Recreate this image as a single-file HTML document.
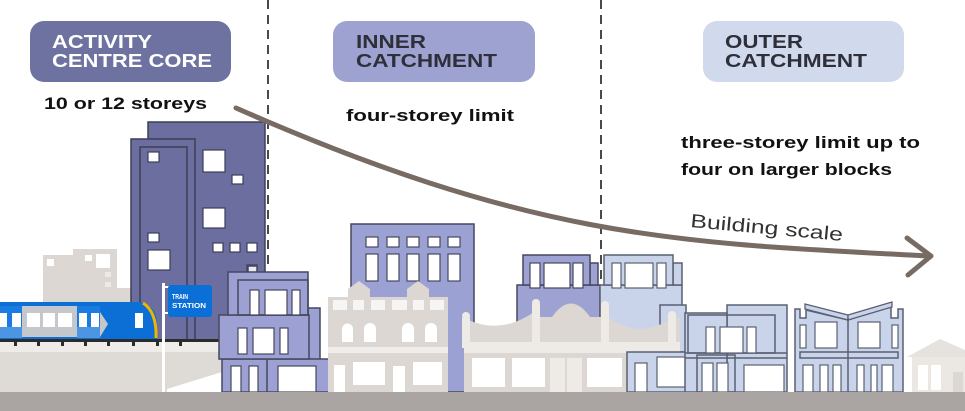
<!DOCTYPE html>
<html>
<head>
<meta charset="utf-8">
<style>
html,body{margin:0;padding:0;background:#fff;}
svg{display:block;}
text{font-family:"Liberation Sans",sans-serif;}
</style>
</head>
<body>
<svg width="965" height="411" viewBox="0 0 965 411" xmlns="http://www.w3.org/2000/svg">
<rect width="965" height="411" fill="#fff"/>

<!-- dashed boundary lines -->
<line x1="268" y1="0" x2="268" y2="270" stroke="#4a4a4a" stroke-width="2" stroke-dasharray="9 6"/>
<line x1="601" y1="0" x2="601" y2="288" stroke="#4a4a4a" stroke-width="2" stroke-dasharray="9 6"/>

<!-- beige back building -->
<g fill="#dcd7d3">
  <rect x="43" y="255" width="32" height="90"/>
  <rect x="73" y="249" width="44" height="96"/>
  <rect x="110" y="288" width="22" height="57"/>
</g>
<g fill="#fff">
  <rect x="47" y="259" width="7" height="7"/>
  <rect x="85" y="255" width="7" height="6"/>
  <rect x="96" y="254" width="14" height="14"/>
  <rect x="105" y="272" width="6" height="5" fill="#ece9e6"/>
  <rect x="105" y="282" width="6" height="5" fill="#ece9e6"/>
</g>

<!-- tower -->
<g stroke="#3c3e58" stroke-width="1.5">
  <rect x="148" y="122" width="117" height="220" fill="#6b6e9f"/>
  <rect x="131" y="139" width="64" height="203" fill="#6b6e9f"/>
  <rect x="140" y="147" width="47" height="195" fill="none"/>
</g>
<g fill="#fff" stroke="#3c3e58" stroke-width="1.2">
  <rect x="148" y="152" width="11" height="10"/>
  <rect x="203" y="150" width="22" height="22"/>
  <rect x="232" y="175" width="11" height="9"/>
  <rect x="203" y="208" width="22" height="20"/>
  <rect x="148" y="233" width="11" height="9"/>
  <rect x="148" y="250" width="22" height="20"/>
  <rect x="213" y="243" width="10" height="9"/>
  <rect x="230" y="243" width="10" height="9"/>
  <rect x="247" y="243" width="10" height="9"/>
  <rect x="247" y="265" width="10" height="8"/>
</g>

<!-- platform -->
<path d="M0,342 H222 V372 L167,389 V392 H0 Z" fill="#dedad6"/>
<rect x="0" y="342" width="222" height="10" fill="#eeebe8"/>
<!-- track -->
<rect x="0" y="339" width="222" height="3" fill="#2b2b2b"/>
<g fill="#2b2b2b">
  <rect x="14" y="342" width="3" height="4"/><rect x="37" y="342" width="3" height="4"/>
  <rect x="61" y="342" width="3" height="4"/><rect x="84" y="342" width="3" height="4"/>
  <rect x="107" y="342" width="3" height="4"/><rect x="132" y="342" width="3" height="4"/>
  <rect x="156" y="342" width="3" height="4"/><rect x="179" y="342" width="3" height="4"/>
</g>

<!-- train -->
<path d="M0,302 H140 Q156,306 157,322 V339 H0 Z" fill="#0b6fd6"/>
<path d="M22,306 H96 L108,324 L100,337 H22 Z" fill="#c4c7cb"/>
<rect x="0" y="306" width="22" height="32" fill="#1a7be0"/>
<rect x="77" y="306" width="23" height="32" fill="#1a7be0"/>
<rect x="0" y="327" width="22" height="11" fill="#4b95e3"/>
<rect x="77" y="327" width="23" height="11" fill="#4b95e3"/>
<g fill="#fff">
  <rect x="0" y="313" width="7" height="14"/>
  <rect x="12" y="313" width="9" height="14"/>
  <rect x="27" y="313" width="13" height="14"/>
  <rect x="43" y="313" width="12" height="14"/>
  <rect x="58" y="313" width="14" height="14"/>
  <rect x="79" y="313" width="8" height="14"/>
  <rect x="91" y="313" width="8" height="14"/>
  <rect x="135" y="313" width="8" height="15"/>
</g>
<path d="M143,303 Q157,312 156,338" fill="none" stroke="#f0b400" stroke-width="3"/>

<!-- station sign -->
<rect x="162" y="283" width="3" height="109" fill="#fff"/>
<line x1="164" y1="287" x2="169" y2="287" stroke="#fff" stroke-width="2"/>
<line x1="164" y1="313" x2="169" y2="313" stroke="#fff" stroke-width="2"/>
<rect x="168" y="285" width="44" height="32" rx="3" fill="#0a6fd6"/>
<text x="172" y="299" font-size="7" font-weight="bold" fill="#fff" textLength="16" lengthAdjust="spacingAndGlyphs">TRAIN</text>
<text x="172" y="308" font-size="7" font-weight="bold" fill="#fff" textLength="34" lengthAdjust="spacingAndGlyphs">STATION</text>

<!-- medium purple building (218-330) -->
<g fill="#9ca0d2" stroke="#45485e" stroke-width="1.5">
  <rect x="248" y="266" width="9" height="7" fill="#e9e9f2"/>
  <rect x="308" y="308" width="12" height="52"/>
  <rect x="222" y="359" width="107" height="33"/>
  <rect x="219" y="315" width="90" height="44"/>
  <rect x="228" y="272" width="80" height="43"/>
  <rect x="238" y="280" width="70" height="35" fill="none"/>
  <line x1="267" y1="359" x2="267" y2="392"/>
</g>
<g fill="#fff" stroke="#45485e" stroke-width="1.2">
  <rect x="250" y="290" width="9" height="25"/>
  <rect x="265" y="290" width="22" height="25"/>
  <rect x="292" y="290" width="8" height="25"/>
  <rect x="238" y="328" width="9" height="26"/>
  <rect x="253" y="328" width="21" height="26"/>
  <rect x="280" y="328" width="8" height="26"/>
  <rect x="231" y="366" width="10" height="26"/>
  <rect x="249" y="366" width="9" height="26"/>
  <rect x="278" y="366" width="38" height="26"/>
</g>

<!-- inner tall purple building -->
<rect x="351" y="224" width="123" height="168" fill="#9ca1d3" stroke="#45485e" stroke-width="1.5"/>
<g fill="#fff" stroke="#45485e" stroke-width="1.2">
  <rect x="366" y="237" width="12" height="10"/><rect x="387" y="237" width="12" height="10"/>
  <rect x="407" y="237" width="12" height="10"/><rect x="428" y="237" width="12" height="10"/>
  <rect x="448" y="237" width="12" height="10"/>
  <rect x="366" y="254" width="12" height="27"/><rect x="387" y="254" width="12" height="27"/>
  <rect x="407" y="254" width="12" height="27"/><rect x="428" y="254" width="12" height="27"/>
  <rect x="448" y="254" width="12" height="27"/>
</g>

<!-- beige victorian building -->
<g fill="#dcd7d2">
  <rect x="328" y="297" width="120" height="95"/>
  <polygon points="348,298 348,289 359,281 370,289 370,298"/>
  <polygon points="407,298 407,289 418,281 429,289 429,298"/>
</g>
<g fill="#f7f5f3">
  <rect x="333" y="300" width="14" height="10"/>
  <rect x="353" y="300" width="11" height="10"/>
  <rect x="371" y="300" width="14" height="10"/>
  <rect x="392" y="300" width="15" height="10"/>
  <rect x="413" y="300" width="11" height="10"/>
  <rect x="430" y="300" width="14" height="10"/>
  <rect x="328" y="347" width="120" height="6" fill="#efece9"/>
</g>
<g fill="#fff">
  <path d="M342,342 V329 a5.5,5.5 0 0 1 11,0 V342 Z"/>
  <path d="M364,342 V329 a6,6 0 0 1 12,0 V342 Z"/>
  <path d="M402,342 V329 a6,6 0 0 1 12,0 V342 Z"/>
  <path d="M425,342 V329 a6,6 0 0 1 12,0 V342 Z"/>
  <rect x="334" y="365" width="11" height="27"/>
  <rect x="353" y="362" width="32" height="23"/>
  <rect x="393" y="366" width="12" height="26"/>
  <rect x="413" y="362" width="29" height="23"/>
</g>

<!-- purple block behind shopfront -->
<g fill="#9da2d3" stroke="#45485e" stroke-width="1.5">
  <rect x="517" y="285" width="83" height="50"/>
  <rect x="590" y="263" width="8" height="22"/>
  <rect x="523" y="255" width="67" height="30"/>
</g>
<g fill="#fff" stroke="#45485e" stroke-width="1.2">
  <rect x="530" y="263" width="10" height="25"/>
  <rect x="544" y="263" width="26" height="25"/>
  <rect x="573" y="263" width="10" height="25"/>
</g>

<!-- light blue block behind shopfront -->
<g fill="#c9d3ea" stroke="#5a6072" stroke-width="1.5">
  <rect x="600" y="285" width="82" height="60"/>
  <rect x="673" y="263" width="9" height="22"/>
  <rect x="604" y="255" width="69" height="30"/>
  <rect x="660" y="305" width="26" height="47"/>
</g>
<g fill="#fff" stroke="#5a6072" stroke-width="1.2">
  <rect x="612" y="263" width="9" height="25"/>
  <rect x="625" y="263" width="28" height="25"/>
  <rect x="657" y="263" width="9" height="25"/>
</g>

<!-- beige shopfront -->
<path d="M464,392 V318 Q500,336 534,312 L540,317 H552 Q571,290 590,317 H604 L608,317 Q640,340 672,318 L680,318 V353 H627 V392 Z" fill="#dcd7d3"/>
<g fill="#eeebe7">
  <rect x="462" y="318" width="8" height="30"/>
  <circle cx="466" cy="316" r="4"/>
  <rect x="532" y="304" width="8" height="44"/>
  <circle cx="536" cy="303" r="4"/>
  <rect x="601" y="306" width="8" height="42"/>
  <circle cx="605" cy="305" r="4"/>
  <rect x="668" y="316" width="8" height="32"/>
  <circle cx="672" cy="315" r="4"/>
  <rect x="464" y="342" width="216" height="11"/>
</g>
<g fill="#fff">
  <rect x="472" y="358" width="33" height="29"/>
  <rect x="512" y="358" width="33" height="29"/>
  <rect x="587" y="358" width="35" height="29"/>
</g>
<rect x="550" y="358" width="15" height="34" fill="#eeebe7"/>
<rect x="567" y="358" width="15" height="34" fill="#eeebe7"/>

<!-- light blue ground box -->
<rect x="627" y="352" width="68" height="40" fill="#c9d3ea" stroke="#5a6072" stroke-width="1.5"/>
<g fill="#fff" stroke="#5a6072" stroke-width="1.2">
  <rect x="635" y="363" width="12" height="29"/>
  <rect x="657" y="357" width="33" height="30"/>
</g>

<!-- outer building A -->
<g fill="#c9d3ea" stroke="#5a6072" stroke-width="1.5">
  <rect x="727" y="305" width="60" height="87"/>
  <rect x="685" y="313" width="42" height="79"/>
  <rect x="688" y="315" width="87" height="38" fill="none"/>
  <rect x="697" y="355" width="38" height="37" fill="none"/>
  <line x1="685" y1="353" x2="787" y2="353"/>
  <line x1="685" y1="358" x2="787" y2="358"/>
</g>
<g fill="#fff" stroke="#5a6072" stroke-width="1.2">
  <rect x="706" y="327" width="9" height="26"/>
  <rect x="720" y="327" width="23" height="26"/>
  <rect x="747" y="327" width="9" height="26"/>
  <rect x="702" y="363" width="11" height="29"/>
  <rect x="717" y="363" width="11" height="29"/>
  <rect x="744" y="365" width="40" height="27"/>
</g>

<!-- outer building B -->
<path d="M795,392 V309 H800 V318 H806 V310 L848,320 L891,306 V318 H898 V309 H903 V392 Z" fill="#c9d3ea" stroke="#5a6072" stroke-width="1.5"/>
<polygon points="805,304 848,315 848,320 805,309" fill="#c9d3ea" stroke="#5a6072" stroke-width="1.3"/>
<polygon points="848,315 892,302 892,307 848,320" fill="#c9d3ea" stroke="#5a6072" stroke-width="1.3"/>
<g stroke="#5a6072" stroke-width="1.5" fill="none">
  <line x1="848" y1="318" x2="848" y2="392"/>
  <rect x="800" y="352" width="98" height="6"/>
</g>
<g fill="#fff" stroke="#5a6072" stroke-width="1.2">
  <rect x="815" y="322" width="22" height="26"/>
  <rect x="858" y="322" width="22" height="26"/>
  <rect x="800" y="325" width="6" height="23"/>
  <rect x="892" y="325" width="6" height="23"/>
  <rect x="803" y="365" width="10" height="27"/>
  <rect x="820" y="365" width="8" height="27"/>
  <rect x="833" y="365" width="8" height="27"/>
  <rect x="857" y="365" width="7" height="27"/>
  <rect x="871" y="365" width="6" height="27"/>
  <rect x="882" y="365" width="11" height="27"/>
</g>

<!-- small beige house -->
<polygon points="907,357 940,339 965,350 965,357" fill="#e6e2de"/>
<rect x="912" y="357" width="53" height="35" fill="#ebe7e3"/>
<rect x="918" y="365" width="10" height="25" fill="#fff"/>
<rect x="931" y="365" width="10" height="25" fill="#fff"/>
<rect x="953" y="372" width="10" height="20" fill="#dcd7d3"/>

<!-- ground -->
<rect x="0" y="392" width="965" height="19" fill="#aaa5a2"/>

<!-- arrow -->
<path d="M236,108 C536,240 680,243 929,256" fill="none" stroke="#776b63" stroke-width="5" stroke-linecap="round"/>
<polyline points="907,238 931,256 908,275" fill="none" stroke="#776b63" stroke-width="5" stroke-linecap="round" stroke-linejoin="round"/>

<!-- labels -->
<rect x="30" y="21" width="201" height="61" rx="14" fill="#6e72a1"/>
<text x="52" y="48" font-size="18" font-weight="bold" fill="#fff" textLength="100" lengthAdjust="spacingAndGlyphs">ACTIVITY</text>
<text x="52" y="67" font-size="18" font-weight="bold" fill="#fff" textLength="160" lengthAdjust="spacingAndGlyphs">CENTRE CORE</text>

<rect x="333" y="21" width="202" height="61" rx="14" fill="#9da2d1"/>
<text x="356" y="48" font-size="18" font-weight="bold" fill="#2f2f3a" textLength="70" lengthAdjust="spacingAndGlyphs">INNER</text>
<text x="356" y="67" font-size="18" font-weight="bold" fill="#2f2f3a" textLength="141" lengthAdjust="spacingAndGlyphs">CATCHMENT</text>

<rect x="703" y="21" width="201" height="61" rx="14" fill="#d1d9ec"/>
<text x="725" y="48" font-size="18" font-weight="bold" fill="#2f2f3a" textLength="78" lengthAdjust="spacingAndGlyphs">OUTER</text>
<text x="725" y="67" font-size="18" font-weight="bold" fill="#2f2f3a" textLength="142" lengthAdjust="spacingAndGlyphs">CATCHMENT</text>

<!-- body text -->
<text x="44" y="109" font-size="17" font-weight="bold" fill="#111" textLength="163" lengthAdjust="spacingAndGlyphs">10 or 12 storeys</text>
<text x="346" y="121" font-size="17" font-weight="bold" fill="#111" textLength="168" lengthAdjust="spacingAndGlyphs">four-storey limit</text>
<text x="681" y="148" font-size="17" font-weight="bold" fill="#111" textLength="239" lengthAdjust="spacingAndGlyphs">three-storey limit up to</text>
<text x="681" y="175" font-size="17" font-weight="bold" fill="#111" textLength="211" lengthAdjust="spacingAndGlyphs">four on larger blocks</text>

<text x="690" y="227" font-size="19" fill="#333" transform="rotate(5.2 690 227)" textLength="153" lengthAdjust="spacingAndGlyphs">Building scale</text>
</svg>
</body>
</html>
